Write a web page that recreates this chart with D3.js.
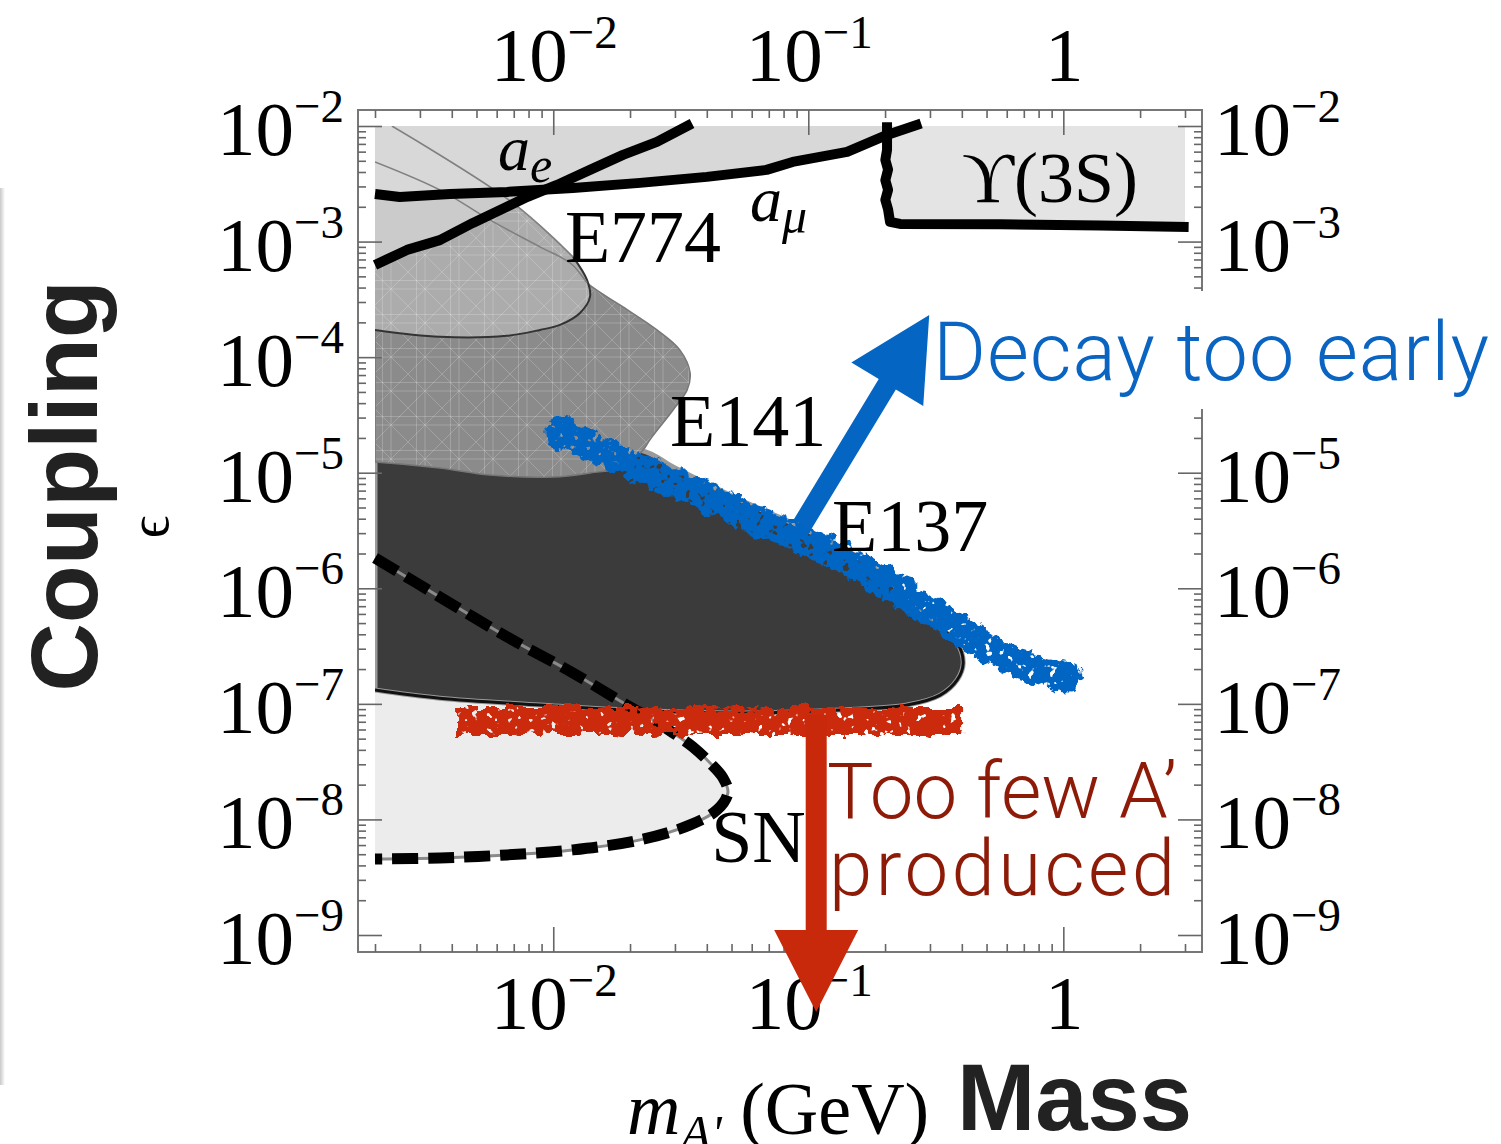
<!DOCTYPE html>
<html>
<head>
<meta charset="utf-8">
<script src="https://cdn.jsdelivr.net/npm/d3@7"></script>
<style>
  html, body { margin: 0; padding: 0; background: #fff; }
  svg { display: block; }
</style>
</head>
<body>
<svg id="chart" width="1501" height="1144"></svg>
<script>
// ---- data (mass in GeV, coupling epsilon) ----
const massRange = [0.002, 3];
const couplingRange = [1e-9, 1e-2];

const massMajor = [0.01, 0.1, 1];
const massTickLabels = [["10", "\u22122"], ["10", "\u22121"], ["1", ""]];
const couplingMajor = [1e-2, 1e-3, 1e-4, 1e-5, 1e-6, 1e-7, 1e-8, 1e-9];
const couplingTickLabels = ["\u22122", "\u22123", "\u22124", "\u22125", "\u22126", "\u22127", "\u22128", "\u22129"];

const aMuLine = [[0.002, 2.58e-3], [0.0025, 2.43e-3], [0.00394, 2.58e-3], [0.00658, 2.69e-3], [0.01195, 2.91e-3],
  [0.0219, 3.22e-3], [0.04, 3.63e-3], [0.0686, 4.17e-3], [0.0868, 4.89e-3], [0.142, 5.97e-3],
  [0.2036, 8.37e-3], [0.277, 1.05e-2]];
const aeLine = [[0.002, 6.28e-4], [0.00267, 8.47e-4], [0.00359, 1.03e-3], [0.00484, 1.45e-3], [0.00658, 2.0e-3],
  [0.00789, 2.43e-3], [0.01034, 3.09e-3], [0.01393, 4.17e-3], [0.01877, 5.62e-3], [0.0255, 7.28e-3], [0.035, 1.05e-2]];
const upsilonLine = [[0.2036, 1.08e-2], [0.2036, 6.2e-3], [0.2005, 5.1e-3], [0.2055, 4.2e-3], [0.2005, 3.4e-3],
  [0.2055, 2.8e-3], [0.2005, 2.3e-3], [0.2055, 1.9e-3], [0.2092, 1.48e-3], [0.229, 1.42e-3],
  [0.566, 1.41e-3], [1.4, 1.38e-3], [3.1, 1.34e-3]];

const e774Region = [[0.002, 1e-2], [0.00233, 1e-2], [0.00695, 2.16e-3], [0.01195, 7.37e-4], [0.01356, 4.66e-4],
  [0.01393, 3.32e-4], [0.01273, 2.41e-4], [0.01062, 1.90e-4], [0.00887, 1.72e-4], [0.00658, 1.53e-4],
  [0.00359, 1.50e-4], [0.002, 1.72e-4]];
const e141Region = [[0.002, 4.89e-3], [0.00359, 2.80e-3], [0.00564, 1.54e-3], [0.00887, 8.99e-4], [0.01163, 6.53e-4],
  [0.01356, 4.39e-4], [0.01877, 2.72e-4], [0.0255, 1.72e-4], [0.0314, 1.15e-4], [0.0344, 7.30e-5],
  [0.0335, 5.20e-5], [0.0295, 3.49e-5], [0.0239, 1.92e-5], [0.0225, 1.57e-5], [0.01877, 1.12e-5],
  [0.01393, 9.95e-6], [0.00997, 9.19e-6], [0.00564, 9.56e-6], [0.00359, 1.10e-5], [0.002, 1.24e-5]];
const e137Region = [[0.002, 1.57e-5], [0.0219, 1.57e-5], [0.0295, 1.12e-5], [0.054, 5.81e-6], [0.0989, 3.2e-6],
  [0.1795, 1.53e-6], [0.282, 6.11e-7], [0.329, 4.53e-7], [0.3836, 3.36e-7], [0.405, 2.26e-7],
  [0.3836, 1.61e-7], [0.329, 1.19e-7], [0.244, 9.77e-8], [0.1333, 8.85e-8], [0.054, 8.33e-8],
  [0.01877, 8.85e-8], [0.00887, 9.77e-8], [0.00359, 1.12e-7], [0.002, 1.32e-7]];
const snLine = [[0.002, 1.83e-6], [0.00359, 8.42e-7], [0.00658, 3.80e-7], [0.01195, 1.85e-7], [0.0194, 9.79e-8],
  [0.0246, 7.26e-8], [0.0295, 5.61e-8], [0.0353, 4.24e-8], [0.0412, 3.08e-8], [0.0463, 2.29e-8],
  [0.0484, 1.70e-8], [0.0439, 1.21e-8], [0.0344, 8.96e-9], [0.0219, 6.65e-9], [0.01195, 5.45e-9],
  [0.00658, 4.93e-9], [0.00359, 4.64e-9], [0.002, 4.55e-9]];

const decayBand = [[0.01062, 2.21e-5], [0.0219, 1.10e-5], [0.04, 6.17e-6], [0.0647, 3.67e-6], [0.0989, 2.62e-6],
  [0.1795, 1.30e-6], [0.329, 5.64e-7], [0.6026, 2.49e-7], [1.045, 1.71e-7]];
const productionBand = [[0.00412, 7.1e-8], [0.401, 7.1e-8]];

const blueArrow = [[0.0946, 3.53e-6], [0.298, 2.32e-4]];
const redArrow = [[0.1074, 8.0e-8], [0.1074, 2.16e-10]];

const regionLabels = [
  ["E774", 0.01111, 6.67e-4],
  ["E141", 0.0287, 1.70e-5],
  ["E137", 0.124, 2.10e-6],
  ["SN", 0.0416, 4.28e-9],
  ["\u03D2(3S)", 0.401, 2.2e-3]
];
const anomalyLabels = [["a", "e", 0.00607, 4.17e-3], ["a", "\u03BC", 0.0591, 1.51e-3]];

// ---- setup ----
const svg = d3.select("#chart");
const defs = svg.append("defs");
const serif = "'Liberation Serif', 'Times New Roman', Times, serif";
const sans = "'Liberation Sans', Arial, Helvetica, sans-serif";
const light = "'Helvetica Neue', Roboto, 'Liberation Sans', sans-serif";

const x = d3.scaleLog().domain(massRange).range([375, 1185]);
const y = d3.scaleLog().domain(couplingRange).range([935, 126]);
const frame = { l: x.range()[0] - 17, r: x.range()[1] + 17, t: y.range()[1] - 16, b: y.range()[0] + 17 };

const line = d3.line().x(d => x(d[0])).y(d => y(d[1]));
const smooth = d3.line().x(d => x(d[0])).y(d => y(d[1])).curve(d3.curveCatmullRom.alpha(0.5));
const poly = pts => smooth(pts) + "Z";

defs.append("clipPath").attr("id", "plotclip")
  .append("rect")
  .attr("x", x.range()[0]).attr("y", y.range()[1])
  .attr("width", x.range()[1] - x.range()[0]).attr("height", y.range()[0] - y.range()[1]);

// mesh-like hatching seen on E774 / E141
const hatch = defs.append("pattern").attr("id", "hatch")
  .attr("patternUnits", "userSpaceOnUse").attr("width", 34).attr("height", 34);
hatch.append("path")
  .attr("d", "M0,17H34M17,0V34M0,0L34,34M34,0L0,34M0,8.5H34M8.5,0V34")
  .attr("stroke", "#fff").attr("stroke-opacity", 0.2).attr("stroke-width", 1).attr("fill", "none");

// rough, hand-drawn looking band
const rough = defs.append("filter").attr("id", "rough")
  .attr("filterUnits", "userSpaceOnUse").attr("x", 0).attr("y", 0).attr("width", 1501).attr("height", 1144);
rough.append("feTurbulence").attr("type", "fractalNoise").attr("baseFrequency", 0.08)
  .attr("numOctaves", 3).attr("seed", 4).attr("result", "n");
rough.append("feDisplacementMap").attr("in", "SourceGraphic").attr("in2", "n").attr("scale", 15)
  .attr("xChannelSelector", "R").attr("yChannelSelector", "G").attr("result", "d");
rough.append("feTurbulence").attr("type", "fractalNoise").attr("baseFrequency", 0.14)
  .attr("numOctaves", 2).attr("seed", 9).attr("result", "n2");
rough.append("feColorMatrix").attr("in", "n2").attr("type", "matrix")
  .attr("values", "0 0 0 0 0  0 0 0 0 0  0 0 0 0 0  -16 0 0 0 11.4").attr("result", "holes");
rough.append("feComposite").attr("in", "d").attr("in2", "holes").attr("operator", "in");

// slide edge shadow on the far left
const shade = defs.append("linearGradient").attr("id", "edge");
shade.append("stop").attr("offset", 0).attr("stop-color", "#c8c8c8");
shade.append("stop").attr("offset", 1).attr("stop-color", "#fff");
svg.append("rect").attr("x", 0).attr("y", 188).attr("width", 5).attr("height", 897).attr("fill", "url(#edge)");

// ---- excluded regions ----
const plot = svg.append("g").attr("clip-path", "url(#plotclip)");

// SN (light) region, closed along the left edge
plot.append("path").attr("d", poly(snLine)).attr("fill", "#ececec");

// E137
plot.append("path").attr("d", poly(e137Region)).attr("fill", "#3b3b3b")
  .attr("stroke", "#9a9a9a").attr("stroke-width", 5);
plot.append("path").attr("d", smooth(e137Region.slice(7))).attr("fill", "none")
  .attr("stroke", "#111").attr("stroke-width", 3);

// E141
plot.append("path").attr("d", poly(e141Region)).attr("fill", "#8b8b8b");
plot.append("path").attr("d", poly(e141Region)).attr("fill", "url(#hatch)")
  .attr("stroke", "#777").attr("stroke-width", 1.5);

// E774
plot.append("path").attr("d", poly(e774Region)).attr("fill", "#acacac");
plot.append("path").attr("d", poly(e774Region)).attr("fill", "url(#hatch)");
plot.append("path").attr("d", smooth(e774Region.slice(3))).attr("fill", "none")
  .attr("stroke", "#333").attr("stroke-width", 2);

// a_e, a_mu and Upsilon(3S) regions
plot.append("path").attr("d", line(aeLine.concat([[0.002, 1.05e-2]])) + "Z").attr("fill", "#cbcbcb");
const muIdx = aMuLine.findIndex(d => d[0] >= 0.2036);
plot.append("path")
  .attr("d", line(aMuLine.slice(0, muIdx + 1).concat([[0.2036, 1.05e-2], [0.002, 1.05e-2]])) + "Z")
  .attr("fill", "#d8d8d8");
plot.append("path")
  .attr("d", line(upsilonLine.slice(1, -1).concat([[3, 1.34e-3], [3, 1.05e-2], [0.2036, 1.05e-2]])) + "Z")
  .attr("fill", "#e4e4e4");

// thin upper edges of E774 and E141 (visible through the light bands)
plot.append("path").attr("d", smooth(e774Region.slice(1, 4))).attr("fill", "none")
  .attr("stroke", "#808080").attr("stroke-width", 1.6);
plot.append("path").attr("d", smooth(e141Region.slice(0, 6))).attr("fill", "none")
  .attr("stroke", "#808080").attr("stroke-width", 1.6);

// SN boundary: thin grey under thick dashes
svg.append("path").attr("d", smooth(snLine)).attr("fill", "none")
  .attr("stroke", "#8a8a8a").attr("stroke-width", 3);
svg.append("path").attr("d", smooth(snLine)).attr("fill", "none")
  .attr("stroke", "#000").attr("stroke-width", 11).attr("stroke-dasharray", "26 10");

// thick black limit lines
[aeLine, aMuLine, upsilonLine].forEach(pts => {
  svg.append("path").attr("d", line(pts)).attr("fill", "none")
    .attr("stroke", "#000").attr("stroke-width", 10).attr("stroke-linejoin", "round");
});

// hand-drawn bands
svg.append("path").attr("d", smooth(decayBand)).attr("fill", "none")
  .attr("stroke", "#0565c3").attr("stroke-width", 29).attr("stroke-linecap", "round")
  .attr("filter", "url(#rough)");
svg.append("path").attr("d", line(productionBand)).attr("fill", "none")
  .attr("stroke", "#cc2a08").attr("stroke-width", 28).attr("stroke-linecap", "butt")
  .attr("filter", "url(#rough)");

// ---- frame and ticks ----
svg.append("rect")
  .attr("x", frame.l).attr("y", frame.t)
  .attr("width", frame.r - frame.l).attr("height", frame.b - frame.t)
  .attr("fill", "none").attr("stroke", "#777").attr("stroke-width", 2);

const massMinor = [];
[0.001, 0.01, 0.1, 1].forEach(dec => d3.range(2, 10).forEach(k => {
  const v = k * dec;
  if (v >= massRange[0] && v <= massRange[1]) massMinor.push(v);
}));
const couplingMinor = [];
d3.range(-9, -2).forEach(e => d3.range(2, 10).forEach(k => couplingMinor.push(k * Math.pow(10, e))));

function tickSet(axis, tr, values, size) {
  svg.append("g").attr("transform", tr)
    .call(axis.tickValues(values).tickSize(size).tickFormat(""))
    .call(g => g.select(".domain").remove())
    .call(g => g.selectAll("line").attr("stroke", "#666").attr("stroke-width", 1.6));
}
tickSet(d3.axisBottom(x), `translate(0,${frame.t})`, massMajor, 25);
tickSet(d3.axisBottom(x), `translate(0,${frame.t})`, massMinor, 8);
tickSet(d3.axisTop(x), `translate(0,${frame.b})`, massMajor, 25);
tickSet(d3.axisTop(x), `translate(0,${frame.b})`, massMinor, 8);
tickSet(d3.axisRight(y), `translate(${frame.l},0)`, couplingMajor, 24);
tickSet(d3.axisRight(y), `translate(${frame.l},0)`, couplingMinor, 8);
tickSet(d3.axisLeft(y), `translate(${frame.r},0)`, couplingMajor, 24);
tickSet(d3.axisLeft(y), `translate(${frame.r},0)`, couplingMinor, 8);

// ---- tick labels ----
function powerLabel(g, base, exp, px, py, anchor) {
  const t = g.append("text").attr("x", px).attr("y", py).attr("text-anchor", anchor)
    .attr("font-family", serif).attr("font-size", 77).attr("fill", "#000");
  t.append("tspan").text(base);
  if (exp) t.append("tspan").attr("font-size", 47).attr("dy", -33).text(exp);
}
const labels = svg.append("g");
massMajor.forEach((v, i) => {
  powerLabel(labels, massTickLabels[i][0], massTickLabels[i][1], x(v) + 1, frame.t - 29, "middle");
  powerLabel(labels, massTickLabels[i][0], massTickLabels[i][1], x(v) + 1, frame.b + 77, "middle");
});
couplingMajor.forEach((v, i) => {
  powerLabel(labels, "10", couplingTickLabels[i], frame.l - 14, y(v) + 29, "end");
  // the right-hand 10^-4 sits under the "Decay too early" note
  if (v !== 1e-4) powerLabel(labels, "10", couplingTickLabels[i], frame.r + 12, y(v) + 29, "start");
});

// ---- region labels ----
regionLabels.forEach(([t, m, e]) => {
  svg.append("text").attr("x", x(m)).attr("y", y(e))
    .attr("font-family", serif).attr("font-size", t.length > 4 ? 72 : 74).attr("fill", "#000").text(t);
});
anomalyLabels.forEach(([b, s, m, e]) => {
  const t = svg.append("text").attr("x", x(m)).attr("y", y(e))
    .attr("font-family", serif).attr("font-style", "italic").attr("font-size", 64).attr("fill", "#000");
  t.append("tspan").text(b);
  t.append("tspan").attr("font-size", 50).attr("dy", 12).text(s);
});

// ---- axis titles ----
svg.append("text").attr("transform", "translate(97,486) rotate(-90)").attr("text-anchor", "middle")
  .attr("font-family", sans).attr("font-weight", "bold").attr("font-size", 95).attr("fill", "#222")
  .text("Coupling");
svg.append("text").attr("transform", "translate(168,527) rotate(-90)").attr("text-anchor", "middle")
  .attr("font-family", serif).attr("font-size", 56).attr("fill", "#000").text("\u03F5");
svg.append("text").attr("x", 957).attr("y", 1130)
  .attr("font-family", sans).attr("font-weight", "bold").attr("font-size", 94).attr("fill", "#222")
  .text("Mass");
const mt = svg.append("text").attr("x", 627).attr("y", 1134)
  .attr("font-family", serif).attr("font-size", 74).attr("fill", "#000");
mt.append("tspan").attr("font-style", "italic").text("m");
mt.append("tspan").attr("font-style", "italic").attr("font-size", 50).attr("dy", 16).text("A'");
mt.append("tspan").attr("dy", -16).text(" (GeV)");

// ---- annotations ----
svg.append("rect").attr("x", 930).attr("y", 291).attr("width", 571).attr("height", 118).attr("fill", "#fff");

function arrow(pts, w, L, Hh) {
  const p0 = [x(pts[0][0]), y(pts[0][1])], p1 = [x(pts[1][0]), y(pts[1][1])];
  const dx = p1[0] - p0[0], dy = p1[1] - p0[1], len = Math.hypot(dx, dy);
  const ux = dx / len, uy = dy / len, nx = -uy, ny = ux;
  const bx = p1[0] - ux * L, by = p1[1] - uy * L;
  return "M" + [
    [p0[0] + nx * w / 2, p0[1] + ny * w / 2], [bx + nx * w / 2, by + ny * w / 2], [bx + nx * Hh, by + ny * Hh],
    p1, [bx - nx * Hh, by - ny * Hh], [bx - nx * w / 2, by - ny * w / 2], [p0[0] - nx * w / 2, p0[1] - ny * w / 2]
  ].map(p => p.join(",")).join("L") + "Z";
}
svg.append("path").attr("d", arrow(blueArrow, 20, 81, 42)).attr("fill", "#0565c3");
svg.append("path").attr("d", arrow(redArrow, 21, 82, 42)).attr("fill", "#c8290a");

svg.append("text").attr("x", 933).attr("y", 380)
  .attr("font-family", light).attr("font-weight", 300).attr("font-size", 81).attr("fill", "#0a64c2")
  .attr("textLength", 556).attr("lengthAdjust", "spacing")
  .text("Decay too early");
svg.append("text").attr("x", 827).attr("y", 818)
  .attr("font-family", light).attr("font-weight", 300).attr("font-size", 78).attr("fill", "#8e1b08")
  .attr("textLength", 350).attr("lengthAdjust", "spacing")
  .text("Too few A\u2019");
svg.append("text").attr("x", 829).attr("y", 895)
  .attr("font-family", light).attr("font-weight", 300).attr("font-size", 78).attr("fill", "#8e1b08")
  .attr("textLength", 346).attr("lengthAdjust", "spacing")
  .text("produced");
</script>
</body>
</html>
